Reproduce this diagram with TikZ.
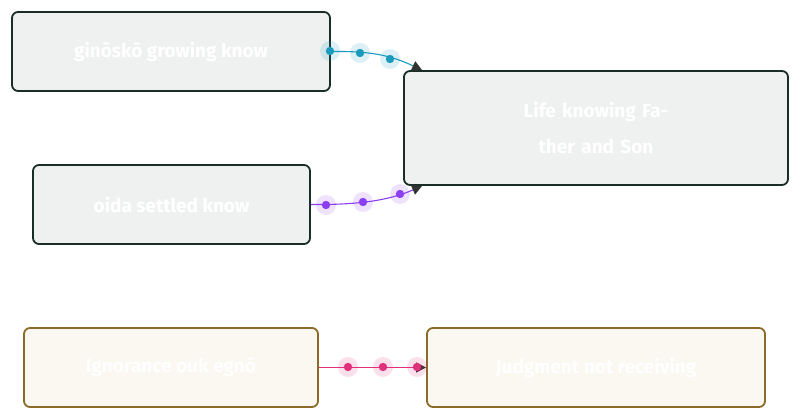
\documentclass[tikz,border=0pt]{standalone}
\usepackage{fontspec}
\setmainfont{Fira Sans}
\usetikzlibrary{arrows.meta,calc}
\definecolor{boxfill}{HTML}{EFF1F0}
\definecolor{boxline}{HTML}{1A2E28}
\definecolor{warmfill}{HTML}{FAF8F1}
\definecolor{warmline}{HTML}{8B6A2A}
\definecolor{teal}{HTML}{1A9BBD}
\definecolor{violet}{HTML}{8B3FF0}
\definecolor{rose}{HTML}{E0307A}
\definecolor{tipgray}{HTML}{333333}
\tikzset{
  box/.style={draw=boxline, fill=boxfill, line width=1.8pt, rounded corners=6pt,
    text=white, font=\fontsize{19}{36}\selectfont\bfseries, align=center, inner sep=0pt},
  warm/.style={box, draw=warmline, fill=warmfill},
  link/.style={line width=1.1pt, -{Triangle[length=10pt,width=10pt,fill=tipgray,color=tipgray]}},
  halo/.style={fill=#1, opacity=0.15},
}
\newcommand{\pearl}[2]{%
  \fill[halo=#1] (#2) circle (10);
  \fill[#1] (#2) circle (4.2);
}
\begin{document}
\begin{tikzpicture}[x=1pt,y=-1pt]
  \useasboundingbox (0,0) rectangle (800,419);
  \node[box, minimum width=318, minimum height=79] (gin) at (171,51.5) {ginōskō growing know};
  \node[box, minimum width=384, minimum height=114, text width=235] (life) at (596,128) {Life knowing Father and Son};
  \node[box, minimum width=277, minimum height=79] (oida) at (171.5,204.5) {oida settled know};
  \node[warm, minimum width=294, minimum height=79] (ign) at (171,367.5) {Ignorance ouk egnō};
  \node[warm, minimum width=338, minimum height=79] (judg) at (596,367.5) {Judgment not receiving};

  % connectors
  \draw[link, teal] (gin.east) .. controls (370,51) and (390,55) .. ($(life.north west)+(19,0)$);
  \draw[link, violet] (oida.east) .. controls (360,205) and (390,200) .. ($(life.south west)+(19,0)$);
  \draw[link, rose] (ign.east) -- (judg.west);

  % pearls
  \pearl{teal}{330,51}
  \pearl{teal}{360,53}
  \pearl{teal}{390,59}
  \pearl{violet}{326,205}
  \pearl{violet}{363,202}
  \pearl{violet}{400,194}
  \pearl{rose}{348,367}
  \pearl{rose}{383,367}
  \pearl{rose}{417,367}
\end{tikzpicture}
\end{document}
